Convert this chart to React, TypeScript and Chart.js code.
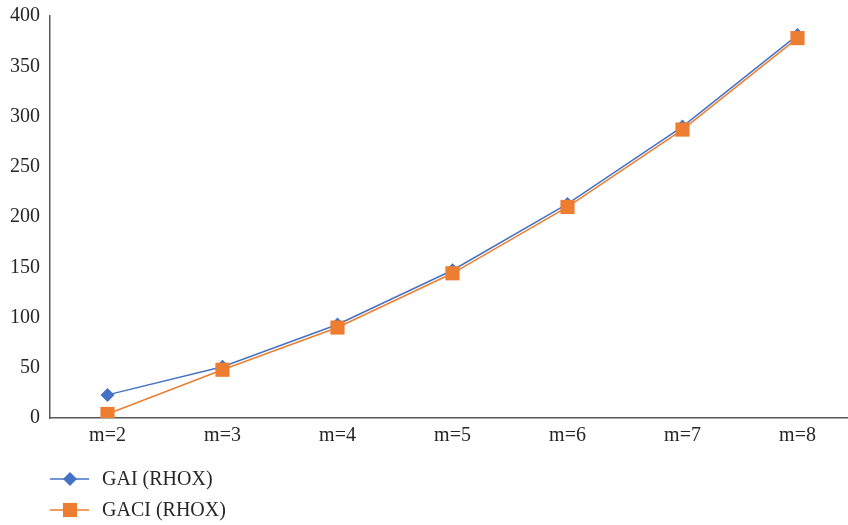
import React, { useEffect, useRef } from "react";
import { Chart, registerables } from "chart.js";

Chart.register(...registerables);

const categories = ["m=2", "m=3", "m=4", "m=5", "m=6", "m=7", "m=8"];
const gaiValues = [23, 51, 93, 147, 213, 290, 381];
const gaciValues = [4, 48, 90, 144, 210, 287, 378];
const seriesNames = ["GAI (RHOX)", "GACI (RHOX)"];

const BLUE = "#4472C4";
const ORANGE = "#ED7D31";
const FONT = "'Liberation Serif', 'Times New Roman', serif";
const TEXT = "#262626";
const AXIS = "#595959";

// Vertical legend drawn under the plot: a short line with the series marker, then its name
const lineLegend = {
  id: "lineLegend",
  afterDraw(chart: any) {
    const ctx = chart.ctx;
    const rows = [479, 510];
    const order = [0, 1];
    ctx.save();
    order.forEach((di, i) => {
      const ds = chart.data.datasets[di];
      const y = rows[i];
      ctx.strokeStyle = ds.borderColor;
      ctx.lineWidth = ds.borderWidth;
      ctx.beginPath();
      ctx.moveTo(50, y);
      ctx.lineTo(89, y);
      ctx.stroke();
      ctx.fillStyle = ds.pointBackgroundColor;
      ctx.beginPath();
      if (ds.pointStyle === "rectRot") {
        const r = ds.pointRadius;
        ctx.moveTo(70 - r, y);
        ctx.lineTo(70, y - r);
        ctx.lineTo(70 + r, y);
        ctx.lineTo(70, y + r);
        ctx.closePath();
      } else {
        const s = ds.pointRadius * Math.SQRT1_2;
        ctx.rect(70 - s, y - s, 2 * s, 2 * s);
      }
      ctx.fill();
      ctx.fillStyle = TEXT;
      ctx.font = `20px ${FONT}`;
      ctx.textBaseline = "middle";
      ctx.textAlign = "left";
      ctx.fillText(ds.label, 102, y + 1);
    });
    ctx.restore();
  },
};

export default function App() {
  const canvasRef = useRef<HTMLCanvasElement | null>(null);

  useEffect(() => {
    if (!canvasRef.current) return;
    const chart = new Chart(canvasRef.current, {
      type: "line",
      data: {
        labels: categories,
        datasets: [
          {
            label: seriesNames[0],
            data: gaiValues,
            borderColor: BLUE,
            backgroundColor: BLUE,
            pointBackgroundColor: BLUE,
            pointBorderWidth: 0,
            borderWidth: 1.5,
            pointStyle: "rectRot",
            pointRadius: 7,
            tension: 0,
            order: 1,
          },
          {
            label: seriesNames[1],
            data: gaciValues,
            borderColor: ORANGE,
            backgroundColor: ORANGE,
            pointBackgroundColor: ORANGE,
            pointBorderWidth: 0,
            borderWidth: 1.5,
            pointStyle: "rect",
            pointRadius: 10,
            tension: 0,
            order: 0,
          },
        ] as any,
      },
      options: {
        animation: false,
        responsive: true,
        maintainAspectRatio: false,
        layout: { padding: { left: 10, top: 16, right: 5, bottom: 67 } },
        plugins: {
          legend: { display: false },
          tooltip: { enabled: false },
        },
        scales: {
          x: {
            offset: true,
            grid: { display: false, drawTicks: false },
            border: { display: true, color: AXIS, width: 1.5 },
            ticks: {
              color: TEXT,
              font: { family: FONT, size: 20 },
              padding: 6,
              maxRotation: 0,
            },
            afterFit: (s: any) => {
              s.height = 40;
            },
          },
          y: {
            min: 0,
            max: 400,
            grid: { display: false, drawTicks: false },
            border: { display: true, color: AXIS, width: 1.5 },
            ticks: {
              stepSize: 50,
              color: TEXT,
              font: { family: FONT, size: 20 },
              padding: 10,
            },
            afterFit: (s: any) => {
              s.width = 40;
              s.paddingTop = 0;
              s.paddingBottom = 0;
            },
          },
        },
      },
      plugins: [lineLegend],
    });
    return () => chart.destroy();
  }, []);

  return (
    <div
      style={{
        position: "fixed",
        left: 0,
        top: 0,
        width: 848,
        height: 525,
        overflow: "hidden",
        background: "#ffffff",
      }}
    >
      <div style={{ position: "relative", width: 865, height: 525 }}>
        <canvas ref={canvasRef} />
      </div>
    </div>
  );
}
